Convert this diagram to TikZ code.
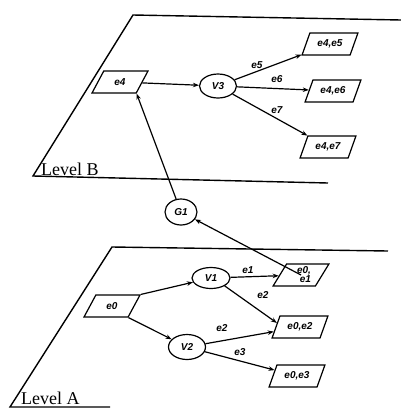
\documentclass[tikz,border=0pt]{standalone}
\usepackage{fontspec}
\setmainfont{Liberation Serif}
\newfontfamily\lblfont{Liberation Sans}
\usetikzlibrary{shapes.geometric,arrows.meta}
\begin{document}
\begin{tikzpicture}[x=1pt,y=-1pt,
  plane/.style={line width=1.4pt},
  para/.style={draw, line width=1.2pt, shape=trapezium, trapezium left angle=60,
    trapezium right angle=120, trapezium stretches=true, minimum width=56pt,
    minimum height=22pt, inner sep=0pt, font=\lblfont\bfseries\itshape\fontsize{10}{9}\selectfont},
  vert/.style={draw, line width=1.2pt, ellipse, inner sep=0pt, font=\lblfont\bfseries\itshape\fontsize{10}{10}\selectfont},
  elab/.style={font=\lblfont\bfseries\itshape\fontsize{10}{10}\selectfont, inner sep=0pt},
  arr/.style={line width=1.2pt, -{Stealth[length=6pt,width=4.5pt]}},
  lev/.style={font=\fontsize{18}{18}\selectfont, inner sep=0pt, anchor=south west}]
\useasboundingbox (0,0) rectangle (401,408);
% planes
\draw[plane] (401,20) -- (133,15) -- (33,176) -- (328,183);
\draw[plane] (388,251) -- (112,247) -- (10,407) -- (110,407);
\node[lev] (lb) at (41,176) {Level B};
\node[lev] (la) at (21,405) {Level A};
% Level B nodes
\node[para] (e4) at (120,82) {e4};
\node[vert, minimum width=37pt, minimum height=24pt] (v3) at (218,86) {V3};
\node[para] (e45) at (330,44) {e4,e5};
\node[para] (e46) at (333,91) {e4,e6};
\node[para] (e47) at (328,147) {e4,e7};
% G1
\node[vert, minimum width=32pt, minimum height=26pt] (g1) at (181,212) {G1};
% Level A nodes
\node[para] (e0) at (112,306) {e0};
\node[vert, minimum width=38pt, minimum height=21pt] (v1) at (211,278) {V1};
\node[vert, minimum width=37pt, minimum height=25pt] (v2) at (187,347) {V2};
\node[para, align=right] (e01) at (301,275) {\hspace*{6pt}e0,\\e1};
\node[para] (e02) at (300,327) {e0,e2};
\node[para] (e03) at (297,376) {e0,e3};
% edge labels
\node[elab] (l5) at (257,65) {e5};
\node[elab] (l6) at (277,79) {e6};
\node[elab] (l7) at (277,110) {e7};
\node[elab] (l1) at (248,270) {e1};
\node[elab] (l2a) at (263,295) {e2};
\node[elab] (l2b) at (222,328) {e2};
\node[elab] (l3) at (240,352) {e3};
% connectors
\draw[arr] (e4) -- (v3);
\draw[arr] (v3) -- (e45);
\draw[arr] (v3) -- (e46);
\draw[arr] (v3) -- (e47);
\draw[arr] (g1) -- (e4.bottom right corner);
\draw[arr] (e01.center) -- (g1);
\draw[arr] (e0.top right corner) -- (v1);
\draw[arr] (e0.bottom right corner) -- (v2);
\draw[arr] (v1) -- (e01);
\draw[arr] (v1.-30) -- (e02.170);
\draw[arr] (v2) -- (e02);
\draw[arr] (v2) -- (e03);
\end{tikzpicture}
\end{document}
